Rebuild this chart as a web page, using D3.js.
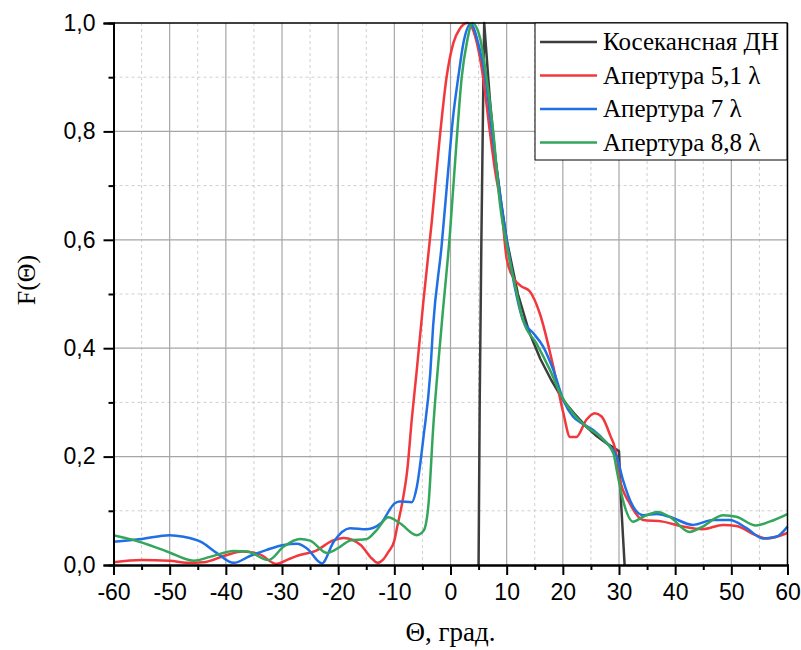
<!DOCTYPE html>
<html>
<head>
<meta charset="utf-8">
<script src="https://cdn.jsdelivr.net/npm/d3@7"></script>
<style>
  body { margin: 0; background: #fff; }
  svg { display: block; }
</style>
</head>
<body>
<div id="chart"></div>
<script>
// curve data: [angle, F]
var cosecData = [[5, 0], [5.2, 0.3], [5.5, 0.6], [5.8, 0.85], [6, 1.0], [7, 0.86], [8, 0.75], [9, 0.67],
    [10, 0.6], [12, 0.5], [14, 0.43], [16, 0.38], [18, 0.34], [20, 0.305], [22, 0.28], [24, 0.257],
    [26, 0.238], [28, 0.223], [30, 0.21], [30.4, 0.11], [31, 0]];

var ap51Data = [[-60, 0.005], [-55, 0.009], [-50, 0.008], [-47, 0.004], [-44, 0.005], [-40, 0.018],
    [-37, 0.025], [-34, 0.02], [-31, 0.002], [-29, 0.01], [-27, 0.018], [-24, 0.026], [-21, 0.045],
    [-19, 0.05], [-16, 0.037], [-14, 0.012], [-13, 0.004], [-12, 0.01], [-11, 0.025], [-10, 0.045],
    [-9.5, 0.07], [-8.5, 0.12], [-7.7, 0.175], [-6.9, 0.268], [-6, 0.36], [-4.8, 0.489], [-3.3, 0.637],
    [-1.9, 0.79], [-0.7, 0.9], [0.5, 0.963], [1.7, 0.99], [3, 1.0], [4.7, 0.963], [5.8, 0.9], [7, 0.8],
    [7.9, 0.73], [9.1, 0.655], [10, 0.565], [11.2, 0.53], [12.5, 0.515], [14.1, 0.505], [15.9, 0.464],
    [18.3, 0.366], [20.1, 0.28], [21.3, 0.236], [22.4, 0.236], [24.2, 0.268], [25.7, 0.28], [26.9, 0.274],
    [28.4, 0.24], [29.6, 0.2], [30.1, 0.16], [31.9, 0.114], [34.3, 0.083], [37.8, 0.08], [41.4, 0.071],
    [44.9, 0.066], [48.5, 0.074], [50.9, 0.072], [54.4, 0.055], [56.2, 0.049], [60, 0.059]];

var ap7Data = [[-60, 0.043], [-55, 0.048], [-50, 0.055], [-47.5, 0.052], [-44.5, 0.043], [-41.6, 0.022],
    [-38.6, 0.004], [-35.6, 0.017], [-32.7, 0.028], [-29.7, 0.037], [-27.3, 0.039], [-25.6, 0.031],
    [-22.9, 0.003], [-20.8, 0.043], [-17.9, 0.068], [-14.9, 0.066], [-12.5, 0.076], [-9.9, 0.114],
    [-9, 0.117], [-6.9, 0.116], [-6, 0.144], [-4.8, 0.237], [-3.6, 0.354], [-3.1, 0.44], [-1.6, 0.587],
    [-0.4, 0.729], [0.4, 0.821], [1.4, 0.901], [2.3, 0.963], [3.6, 0.998], [5, 0.96], [6.2, 0.9],
    [7.3, 0.806], [8.6, 0.7], [10, 0.6], [11.5, 0.51], [12.9, 0.452], [14.8, 0.427], [16.5, 0.403],
    [18.3, 0.36], [20.1, 0.304], [21.8, 0.274], [23.6, 0.26], [25.4, 0.249], [27.8, 0.225], [29.6, 0.2],
    [30.7, 0.157], [32.5, 0.108], [34.3, 0.092], [36.7, 0.094], [39, 0.089], [43.2, 0.074], [46.7, 0.083],
    [49.7, 0.083], [52.7, 0.068], [55.6, 0.049], [58, 0.052], [60, 0.071]];

var ap88Data = [[-60, 0.055], [-56.4, 0.046], [-50.5, 0.025], [-45.7, 0.008], [-42.8, 0.015], [-38.6, 0.026],
    [-36.2, 0.025], [-32.4, 0.009], [-29.7, 0.034], [-26.8, 0.048], [-25, 0.045], [-22, 0.022],
    [-19.6, 0.034], [-17.9, 0.045], [-14.9, 0.048], [-13.1, 0.065], [-11.1, 0.088], [-9, 0.077],
    [-6, 0.055], [-4.8, 0.063], [-3.9, 0.114], [-3.1, 0.25], [-1.6, 0.44], [-0.1, 0.612], [1.1, 0.784],
    [2, 0.9], [2.9, 0.963], [3.9, 1.0], [5.2, 0.975], [6.4, 0.9], [7.6, 0.8], [8.8, 0.667], [10.3, 0.575],
    [11.8, 0.501], [12.9, 0.452], [15.3, 0.409], [17.7, 0.36], [19.8, 0.311], [21.8, 0.28], [24.2, 0.255],
    [26.6, 0.237], [29, 0.206], [29.6, 0.175], [30.7, 0.12], [32.5, 0.08], [34.3, 0.089], [36.9, 0.098],
    [39, 0.089], [42.6, 0.061], [44.9, 0.071], [48.5, 0.092], [50.9, 0.089], [54.4, 0.073], [56.8, 0.08],
    [60, 0.094]];

var seriesNames = ["Косекансная ДН", "Апертура 5,1 λ", "Апертура 7 λ", "Апертура 8,8 λ"];
var seriesColors = ["#3d3d3d", "#f2383c", "#1f6fe5", "#33a65c"];
var xTicks = [-60, -50, -40, -30, -20, -10, 0, 10, 20, 30, 40, 50, 60];
var yTicks = [0, 0.2, 0.4, 0.6, 0.8, 1.0];

var width = 801, height = 650;
var margin = { top: 23, right: 13.5, bottom: 85, left: 113.5 };
var plotW = width - margin.left - margin.right;
var plotH = height - margin.top - margin.bottom;

var svg = d3.select("#chart").append("svg")
    .attr("width", width)
    .attr("height", height);

var x = d3.scaleLinear().domain([-60, 60]).range([0, plotW]);
var y = d3.scaleLinear().domain([0, 1]).range([plotH, 0]);

var g = svg.append("g").attr("transform", "translate(" + margin.left + "," + margin.top + ")");

// minor grid
g.append("g").selectAll("line")
    .data(d3.range(-55, 60, 10))
    .enter().append("line")
    .attr("x1", function(d) { return x(d); }).attr("x2", function(d) { return x(d); })
    .attr("y1", 0).attr("y2", plotH)
    .style("stroke", "#cfcfcf").style("stroke-width", 1).style("stroke-dasharray", "3,3");
g.append("g").selectAll("line")
    .data([0.1, 0.3, 0.5, 0.7, 0.9])
    .enter().append("line")
    .attr("y1", function(d) { return y(d); }).attr("y2", function(d) { return y(d); })
    .attr("x1", 0).attr("x2", plotW)
    .style("stroke", "#cfcfcf").style("stroke-width", 1).style("stroke-dasharray", "3,3");

// major grid
g.append("g").selectAll("line")
    .data(xTicks.slice(1, -1))
    .enter().append("line")
    .attr("x1", function(d) { return x(d); }).attr("x2", function(d) { return x(d); })
    .attr("y1", 0).attr("y2", plotH)
    .style("stroke", "#a6a6a6").style("stroke-width", 1.2);
g.append("g").selectAll("line")
    .data(yTicks.slice(1, -1))
    .enter().append("line")
    .attr("y1", function(d) { return y(d); }).attr("y2", function(d) { return y(d); })
    .attr("x1", 0).attr("x2", plotW)
    .style("stroke", "#a6a6a6").style("stroke-width", 1.2);

// curves
var line = d3.line()
    .x(function(d) { return x(d[0]); })
    .y(function(d) { return y(d[1]); });
var smooth = d3.line()
    .x(function(d) { return x(d[0]); })
    .y(function(d) { return y(d[1]); })
    .curve(d3.curveMonotoneX);

var allData = [cosecData, ap51Data, ap7Data, ap88Data];
allData.forEach(function(data, i) {
    g.append("path")
        .datum(data)
        .attr("d", i == 0 ? line : smooth)
        .style("fill", "none")
        .style("stroke", seriesColors[i])
        .style("stroke-width", 2.5)
        .style("stroke-linejoin", "round");
});

// frame top / right
g.append("line").attr("x1", 0).attr("x2", plotW).attr("y1", 0).attr("y2", 0)
    .style("stroke", "#000").style("stroke-width", 1.5);
g.append("line").attr("x1", plotW).attr("x2", plotW).attr("y1", 0).attr("y2", plotH)
    .style("stroke", "#000").style("stroke-width", 1.5);

// axes
var xAxis = g.append("g")
    .attr("transform", "translate(0," + plotH + ")")
    .call(d3.axisBottom(x).tickValues(xTicks).tickSize(10).tickPadding(9)
        .tickFormat(function(d) { return d; }));
var xMinor = g.append("g")
    .attr("transform", "translate(0," + plotH + ")")
    .call(d3.axisBottom(x).tickValues(d3.range(-55, 60, 10)).tickSize(5).tickFormat(""));

var fmt = function(d) { return d3.format(".1f")(d).replace(".", ","); };
var yAxis = g.append("g")
    .call(d3.axisLeft(y).tickValues(yTicks).tickSize(10).tickPadding(8).tickFormat(fmt));
var yMinor = g.append("g")
    .call(d3.axisLeft(y).tickValues([0.1, 0.3, 0.5, 0.7, 0.9]).tickSize(5).tickFormat(""));

[xAxis, xMinor, yAxis, yMinor].forEach(function(a) {
    a.select(".domain").style("stroke", "#000").style("stroke-width", 2);
    a.selectAll(".tick line").style("stroke", "#000").style("stroke-width", 2);
    a.selectAll("text")
        .style("font-family", "'Liberation Sans', Arial, sans-serif")
        .style("font-size", "23px")
        .style("fill", "#000");
});

// axis titles
svg.append("text")
    .attr("x", margin.left + plotW / 2)
    .attr("y", 641)
    .attr("text-anchor", "middle")
    .style("font-family", "'Liberation Serif', 'Times New Roman', serif")
    .style("font-size", "27px")
    .text("Θ, град.");

svg.append("text")
    .attr("transform", "translate(35,280) rotate(-90)")
    .attr("text-anchor", "middle")
    .style("font-family", "'Liberation Serif', 'Times New Roman', serif")
    .style("font-size", "26px")
    .text("F(Θ)");

// legend
var legend = svg.append("g").attr("transform", "translate(535,23)");
legend.append("rect")
    .attr("width", 252).attr("height", 137)
    .style("fill", "#fff").style("stroke", "#000").style("stroke-width", 1);
seriesNames.forEach(function(name, i) {
    var ly = 19 + i * 33.5;
    legend.append("line")
        .attr("x1", 5).attr("x2", 62).attr("y1", ly).attr("y2", ly)
        .style("stroke", seriesColors[i]).style("stroke-width", 2.5);
    legend.append("text")
        .attr("x", 68).attr("y", ly + 8)
        .style("font-family", "'Liberation Serif', 'Times New Roman', serif")
        .style("font-size", "25px")
        .text(name);
});
</script>
</body>
</html>
